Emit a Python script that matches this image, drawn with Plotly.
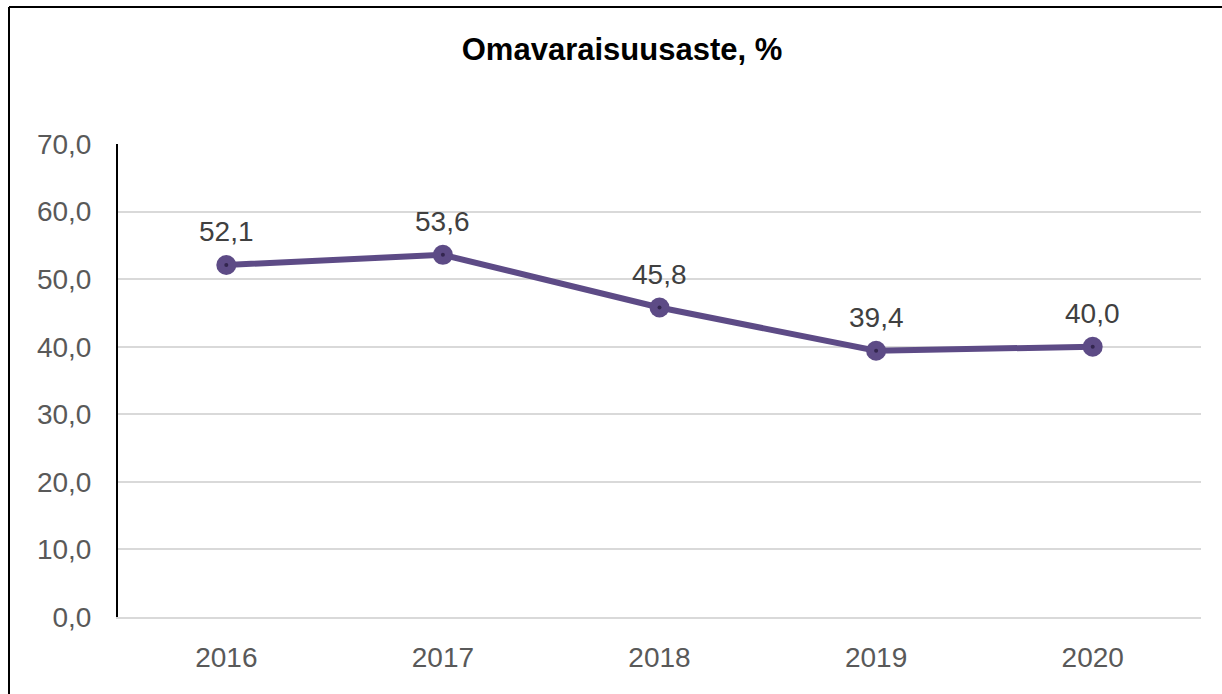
import plotly.graph_objects as go

years = ["2016", "2017", "2018", "2019", "2020"]
values = [52.1, 53.6, 45.8, 39.4, 40.0]
y_ticks = [0, 10, 20, 30, 40, 50, 60, 70]
title = "Omavaraisuusaste, %"

line_color = "#5d4b86"
W, H = 1222, 694
L, R, T, B = 118, 21, 144, 77
pw, ph = W - L - R, H - T - B

def px(x):
    return (x - L) / pw

def py(y):
    return (H - B - y) / ph

fig = go.Figure()
fig.add_trace(go.Scatter(
    x=years, y=values, mode="lines+markers",
    line=dict(color=line_color, width=6),
    marker=dict(size=20, color=line_color),
    hoverinfo="skip", showlegend=False,
))
fig.add_trace(go.Scatter(
    x=years, y=values, mode="markers",
    marker=dict(size=4, color="#33264f"),
    hoverinfo="skip", showlegend=False,
))
for i, v in enumerate(values):
    fig.add_annotation(
        x=i, y=v, xref="x", yref="y",
        text=f"{v:.1f}".replace(".", ","), showarrow=False,
        yshift=33, font=dict(size=28, color="#404040", family="Liberation Sans"),
    )

fig.update_layout(
    width=W, height=H,
    margin=dict(l=L, r=R, t=T, b=B),
    paper_bgcolor="white", plot_bgcolor="white",
    separators=",.",
    title=dict(text="<b>" + title + "</b>", xref="container", x=622 / W, xanchor="center",
               yref="container", y=1 - 49 / H, yanchor="middle",
               font=dict(size=31, color="#000000", family="Liberation Sans")),
    font=dict(family="Liberation Sans", size=28, color="#595959"),
    xaxis=dict(
        type="category", range=[-0.5, 4.5],
        showgrid=False, showline=True, linecolor="#d9d9d9", linewidth=2,
        ticks="", tickfont=dict(size=28, color="#595959"),
        ticklabelstandoff=14,
    ),
    yaxis=dict(
        range=[0, 70], tickvals=y_ticks, tickformat=".1f",
        showgrid=True, gridcolor="#d9d9d9", gridwidth=2,
        zeroline=True, zerolinecolor="#d9d9d9", zerolinewidth=2,
        showline=True, linecolor="#000000", linewidth=2,
        ticks="", tickfont=dict(size=28, color="#595959"),
        ticklabelstandoff=19,
    ),
    shapes=[
        dict(type="line", xref="paper", yref="paper",
             x0=px(9), x1=px(1222), y0=py(7), y1=py(7),
             line=dict(color="black", width=2)),
        dict(type="line", xref="paper", yref="paper",
             x0=px(9), x1=px(9), y0=py(7), y1=py(694),
             line=dict(color="black", width=2)),
    ],
)

fig.write_html(
    "out.html",
    config={"displayModeBar": False},
    post_script="document.body.style.margin='0';document.body.style.overflow='hidden';",
)
